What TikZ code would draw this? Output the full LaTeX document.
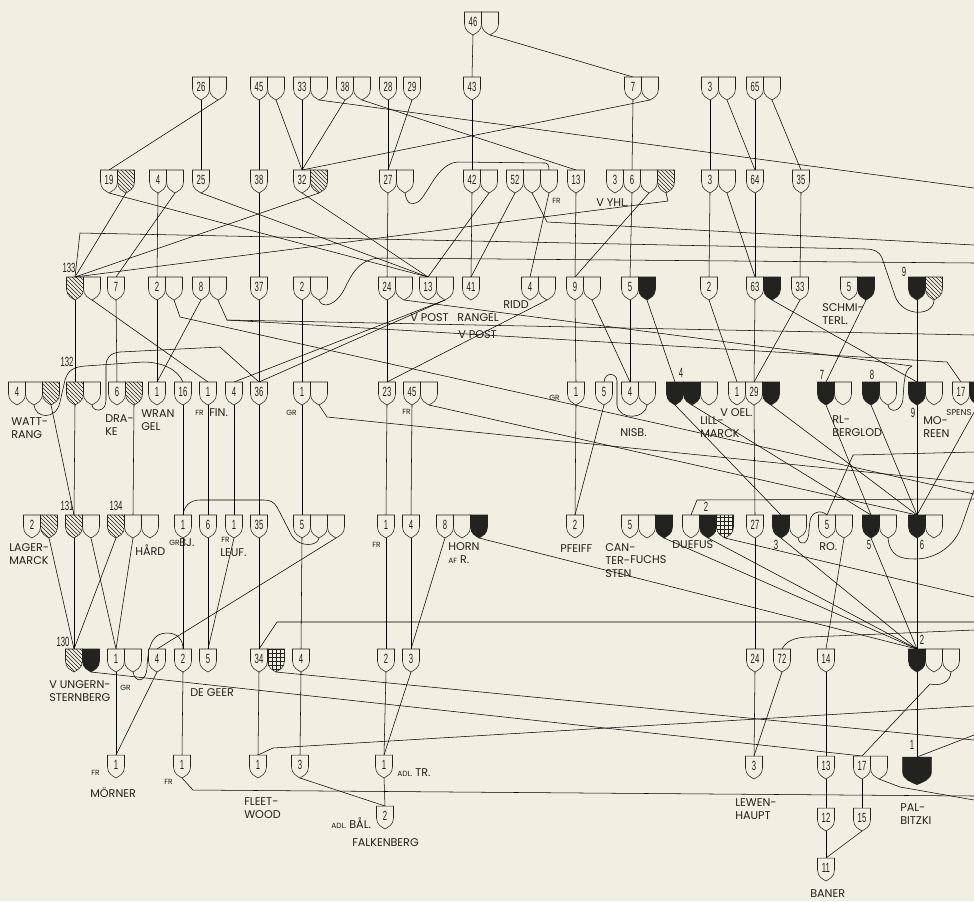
\documentclass[tikz,border=0pt]{standalone}
\usepackage{fontspec,graphicx}
\usetikzlibrary{patterns}
\newfontfamily\labfam{Poppins}
\newfontfamily\numfam{Liberation Sans}
\definecolor{paper}{RGB}{240,239,226}
\definecolor{ink}{RGB}{34,34,30}
\pgfdeclarelayer{paper}
\pgfdeclarelayer{wires}
\pgfsetlayers{paper,wires,main}
\newcommand\nm[1]{\scalebox{.58}[1]{#1}}
\tikzset{
  sf/.style={fill=paper},
  hatched/.style={sf/.style={pattern=north west lines,pattern color=ink}},
  sable/.style={sf/.style={fill=ink}},
  checky/.style={sf/.style={pattern=grid,pattern color=ink}},
  num/.style={font=\numfam\fontsize{10}{10}\selectfont},
  lab/.style={font=\labfam\fontsize{8.4}{9.8}\selectfont,align=left,anchor=west},
  smalllab/.style={font=\labfam\fontsize{5.6}{6}\selectfont,anchor=west},
  shield/.pic={
    \path[draw,sf] (-8.5,0) -- (-8.5,12)
      .. controls (-8.5,19) and (-3,21) .. (0,23)
      .. controls (3,21) and (8.5,19) .. (8.5,12) -- (8.5,0) -- cycle;
    \node[num] (-n) at (0,10) {\nm{#1}};
    \coordinate (-t) at (0,0);
    \coordinate (-b) at (0,23);
  },
}

\begin{document}
\begin{tikzpicture}[x=.75pt,y=-.75pt,color=ink,line width=.62pt,
  every node/.style={inner sep=0pt}]
\useasboundingbox (0,0) rectangle (974,901);
\begin{pgfonlayer}{paper}
\fill[paper] (0,0) rectangle (974,901);
\end{pgfonlayer}

% shields, row by row
\pic (a46) at (473,12) {shield=46};
\pic (a46x) at (490,12) {shield=};

\pic (b26) at (201,77) {shield=26};
\pic (b26x) at (218,77) {shield=};
\pic (b45) at (259,77) {shield=45};
\pic (b45x) at (276,77) {shield=};
\pic (b33) at (302,77) {shield=33};
\pic (b33x) at (319,77) {shield=};
\pic (b38) at (345,77) {shield=38};
\pic (b38x) at (362,77) {shield=};
\pic (b28) at (388,77) {shield=28};
\pic (b29) at (412,77) {shield=29};
\pic (b43) at (472,77) {shield=43};
\pic (b7) at (633,77) {shield=7};
\pic (b7x) at (650,77) {shield=};
\pic (b3) at (710,77) {shield=3};
\pic (b3x) at (727,77) {shield=};
\pic (b65) at (755,77) {shield=65};
\pic (b65x) at (772,77) {shield=};

\pic (c19) at (109,170) {shield=19};
\pic[hatched] (c19h) at (126,170) {shield=};
\pic (c4) at (158,170) {shield=4};
\pic (c4x) at (175,170) {shield=};
\pic (c25) at (201,170) {shield=25};
\pic (c38) at (259,170) {shield=38};
\pic (c32) at (302,170) {shield=32};
\pic[hatched] (c32h) at (319,170) {shield=};
\pic (c27) at (388,170) {shield=27};
\pic (c27x) at (405,170) {shield=};
\pic (c42) at (472,170) {shield=42};
\pic (c42x) at (489,170) {shield=};
\pic (c52) at (515,170) {shield=52};
\pic (c52x) at (532,170) {shield=};
\pic (c52y) at (549,170) {shield=};
\pic (c13) at (576,170) {shield=13};
\pic (c3) at (615,170) {shield=3};
\pic (c6) at (632,170) {shield=6};
\pic (c6x) at (649,170) {shield=};
\pic[hatched] (c6h) at (666,170) {shield=};
\pic (c3r) at (710,170) {shield=3};
\pic (c3rx) at (727,170) {shield=};
\pic (c64) at (755,170) {shield=64};
\pic (c35) at (801,170) {shield=35};

\pic[hatched] (d133) at (75,277) {shield=};
\pic (d133x) at (92,277) {shield=};
\pic (d7) at (116,277) {shield=7};
\pic (d2) at (157,277) {shield=2};
\pic (d2x) at (174,277) {shield=};
\pic (d8) at (201,277) {shield=8};
\pic (d8x) at (218,277) {shield=};
\pic (d37) at (259,277) {shield=37};
\pic (d2r) at (302,277) {shield=2};
\pic (d2rx) at (319,277) {shield=};
\pic (d24) at (387,277) {shield=24};
\pic (d24x) at (404,277) {shield=};
\pic (d13) at (428,277) {shield=13};
\pic (d13x) at (445,277) {shield=};
\pic (d41) at (471,277) {shield=41};
\pic (d4) at (530,277) {shield=4};
\pic (d4x) at (547,277) {shield=};
\pic (d9) at (575,277) {shield=9};
\pic (d9x) at (592,277) {shield=};
\pic (d5) at (630,277) {shield=5};
\pic[sable] (d5k) at (647,277) {shield=};
\pic (d2s) at (709,277) {shield=2};
\pic (d63) at (755,277) {shield=63};
\pic[sable] (d63k) at (772,277) {shield=};
\pic (d33) at (800,277) {shield=33};
\pic (d5s) at (849,277) {shield=5};
\pic[sable] (d5sk) at (866,277) {shield=};
\pic[sable] (d9k) at (917,277) {shield=};
\pic[hatched] (d9h) at (934,277) {shield=};

\pic (e4) at (17,382) {shield=4};
\pic (e4x) at (34,382) {shield=};
\pic[hatched] (e4h) at (51,382) {shield=};
\pic[hatched] (e132) at (75,382) {shield=};
\pic (e132x) at (92,382) {shield=};
\pic (e6) at (117,382) {shield=6};
\pic[hatched] (e6h) at (134,382) {shield=};
\pic (e1) at (157,382) {shield=1};
\pic (e16) at (183,382) {shield=16};
\pic (e1f) at (208,382) {shield=1};
\pic (e4f) at (234,382) {shield=4};
\pic (e36) at (259,382) {shield=36};
\pic (e1g) at (302,382) {shield=1};
\pic (e1gx) at (319,382) {shield=};
\pic (e23) at (387,382) {shield=23};
\pic (e45) at (412,382) {shield=45};
\pic (e45x) at (429,382) {shield=};
\pic (e1n) at (576,382) {shield=1};
\pic (e5n) at (604,382) {shield=5};
\pic (e4n) at (630,382) {shield=4};
\pic (e4nx) at (647,382) {shield=};
\pic[sable] (e4k) at (675,382) {shield=};
\pic[sable] (e4kk) at (692,382) {shield=};
\pic (e4kx) at (709,382) {shield=};
\pic (e1o) at (737,382) {shield=1};
\pic (e29) at (754,382) {shield=29};
\pic[sable] (e29k) at (771,382) {shield=};
\pic[sable] (e7k) at (826,382) {shield=};
\pic (e7x) at (843,382) {shield=};
\pic[sable] (e8k) at (871,382) {shield=};
\pic (e8x) at (888,382) {shield=};
\pic[sable] (e9k) at (917,382) {shield=};
\pic (e9x) at (934,382) {shield=};
\pic (e17) at (961,382) {shield=17};
\pic[sable] (e17k) at (978,382) {shield=};

\pic (f2) at (32,515) {shield=2};
\pic[hatched] (f2h) at (49,515) {shield=};
\pic[hatched] (f131) at (74,515) {shield=};
\pic (f131x) at (91,515) {shield=};
\pic[hatched] (f134) at (116,515) {shield=};
\pic (f134x) at (133,515) {shield=};
\pic (f134y) at (150,515) {shield=};
\pic (f1) at (183,515) {shield=1};
\pic (f6) at (208,515) {shield=6};
\pic (f1l) at (234,515) {shield=1};
\pic (f35) at (259,515) {shield=35};
\pic (f5) at (302,515) {shield=5};
\pic (f5x) at (319,515) {shield=};
\pic (f5y) at (336,515) {shield=};
\pic (f1r) at (386,515) {shield=1};
\pic (f4) at (411,515) {shield=4};
\pic (f8) at (445,515) {shield=8};
\pic (f8x) at (462,515) {shield=};
\pic[sable] (f8k) at (479,515) {shield=};
\pic (f2p) at (575,515) {shield=2};
\pic (f5c) at (630,515) {shield=5};
\pic (f5cx) at (647,515) {shield=};
\pic[sable] (f5ck) at (664,515) {shield=};
\pic (f2d) at (691,515) {shield=};
\pic[sable] (f2dk) at (708,515) {shield=};
\pic[checky] (f2dg) at (725,515) {shield=};
\pic (f27) at (755,515) {shield=27};
\pic[sable] (f3k) at (781,515) {shield=};
\pic (f3x) at (798,515) {shield=};
\pic (f5r) at (827,515) {shield=5};
\pic (f5rx) at (844,515) {shield=};
\pic[sable] (f5k) at (871,515) {shield=};
\pic (f5kx) at (888,515) {shield=};
\pic[sable] (f6k) at (917,515) {shield=};
\pic (f6x) at (934,515) {shield=};

\pic[hatched] (g130) at (74,649) {shield=};
\pic[sable] (g130k) at (91,649) {shield=};
\pic (g1) at (116,649) {shield=1};
\pic (g1x) at (133,649) {shield=};
\pic (g4) at (157,649) {shield=4};
\pic (g2) at (183,649) {shield=2};
\pic (g5) at (208,649) {shield=5};
\pic (g34) at (259,649) {shield=34};
\pic[checky] (g34g) at (276,649) {shield=};
\pic (g4r) at (301,649) {shield=4};
\pic (g2r) at (386,649) {shield=2};
\pic (g3) at (411,649) {shield=3};
\pic (g24) at (755,649) {shield=24};
\pic (g72) at (782,649) {shield=72};
\pic (g14) at (826,649) {shield=14};
\pic[sable] (g2k) at (917,649) {shield=};
\pic (g2x) at (934,649) {shield=};
\pic (g2y) at (951,649) {shield=};

\pic (h1) at (116,755) {shield=1};
\pic (h1d) at (182,755) {shield=1};
\pic (h1f) at (258,755) {shield=1};
\pic (h3) at (300,755) {shield=3};
\pic (h1a) at (384,755) {shield=1};
\pic (h3l) at (754,756) {shield=3};
\pic (h13) at (826,756) {shield=13};
\pic (h17) at (862,756) {shield=17};
\pic (h17x) at (879,756) {shield=};
\pic[sable,xscale=1.7,yscale=1.2] (h1p) at (917,757) {shield=};
\pic (i2) at (385,806) {shield=2};
\pic (i12) at (826,808) {shield=12};
\pic (i15) at (862,808) {shield=15};
\pic (j11) at (826,858) {shield=11};

% numbers beside shields
\node[num] (l133) at (69,268) {\nm{133}};
\node[num] (l132) at (67,362) {\nm{132}};
\node[num] (l131) at (67,506) {\nm{131}};
\node[num] (l134) at (116,506) {\nm{134}};
\node[num] (l130) at (63,642) {\nm{130}};
\node[num] (l9a) at (904,272) {\nm{9}};
\node[num] (l4) at (681,373) {\nm{4}};
\node[num] (l7) at (822,375) {\nm{7}};
\node[num] (l8) at (872,375) {\nm{8}};
\node[num] (l9b) at (913,413) {\nm{9}};
\node[num] (l2a) at (706,507) {\nm{2}};
\node[num] (l3) at (776,545) {\nm{3}};
\node[num] (l5) at (869,545) {\nm{5}};
\node[num] (l6) at (922,545) {\nm{6}};
\node[num] (l2b) at (922,640) {\nm{2}};
\node[num] (l1) at (912,745) {\nm{1}};

% names
\node[smalllab] (fr1) at (552,201) {FR};
\node[lab] (vyhl) at (596,203) {V YHL.};
\node[lab] (vpost1) at (410,318) {V POST};
\node[lab] (rangel) at (457,318) {RANGEL};
\node[lab] (ridd) at (503,305) {RIDD};
\node[lab] (vpost2) at (458,335) {V POST};
\node[lab] (schmi) at (822,314) {SCHMI-\\TERL.};
\node[lab] (watt) at (11,428) {WATT-\\RANG};
\node[lab] (drake) at (105,425) {DRA-\\KE};
\node[lab] (wrangel) at (141,420) {WRAN\\GEL};
\node[smalllab] (fr2) at (195,413) {FR};
\node[lab] (fin) at (209,413) {FIN.};
\node[smalllab] (gr1) at (286,413) {GR};
\node[smalllab] (fr3) at (402,412) {FR};
\node[smalllab] (gr2) at (549,398) {GR};
\node[lab] (nisb) at (620,433) {NISB.};
\node[lab] (lill) at (700,427) {LILL-\\MARCK};
\node[lab] (voel) at (720,413) {V OEL.};
\node[lab] (rl) at (832,426) {RL-\\BERGLOD};
\node[lab] (moreen) at (923,427) {MO-\\REEN};
\node[lab,font=\labfam\fontsize{6.4}{7}\selectfont] (spens) at (946,413) {SPENS};
\node[lab] (lager) at (9,554) {LAGER-\\MARCK};
\node[lab] (hard) at (135,550) {HÅRD};
\node[smalllab] (gr3) at (169,543) {GR};
\node[lab] (bj) at (179,543) {BJ.};
\node[smalllab] (fr4) at (221,540) {FR};
\node[lab] (leuf) at (220,553) {LEUF.};
\node[smalllab] (fr5) at (372,545) {FR};
\node[lab] (horn) at (448,547) {HORN};
\node[lab] (afr) at (448,560) {{\fontsize{5.6}{6}\selectfont AF} R.};
\node[lab] (pfeiff) at (560,549) {PFEIFF};
\node[lab] (canter) at (605,561) {CAN-\\TER-\\STEN};
\node[lab] (fuchs) at (630,560) {FUCHS};
\node[lab] (duefus) at (672,545) {DUEFUS};
\node[lab] (ro) at (819,547) {RO.};
\node[lab] (ungern) at (49,691) {V UNGERN-\\STERNBERG};
\node[smalllab] (gr4) at (120,688) {GR};
\node[lab] (degeer) at (190,693) {DE GEER};
\node[smalllab] (fr6) at (91,773) {FR};
\node[lab] (morner) at (90,793) {MÖRNER};
\node[smalllab] (fr7) at (164,782) {FR};
\node[lab] (fleet) at (244,808) {FLEET-\\WOOD};
\node[lab] (adltr) at (397,773) {{\fontsize{5.6}{6}\selectfont ADL.} TR.};
\node[lab] (adlbal) at (331,823) {{\fontsize{5.6}{6}\selectfont ADL.} BÅL.};
\node[lab] (falk) at (352,843) {FALKENBERG};
\node[lab] (lewen) at (735,809) {LEWEN-\\HAUPT};
\node[lab] (palb) at (900,814) {PAL-\\BITZKI};
\node[lab] (baner) at (810,894) {BANER};

% lines that run off the right edge
\coordinate (rb33) at (974,188);
\coordinate (rc52) at (974,245);
\coordinate (rd2r) at (974,263);
\coordinate (rd8) at (974,335);
\coordinate (rf5r) at (974,452);
\coordinate (re1g) at (974,483);
\coordinate (rf5) at (974,490);
\coordinate (rd2) at (974,494);
\coordinate (rf2d) at (974,499);
\coordinate (rf2g) at (974,597);
\coordinate (rg34) at (974,622);
\coordinate (rg72) at (974,630);
\coordinate (rh1f) at (974,706);
\coordinate (rh1p) at (974,735);
\coordinate (rg34g) at (974,740);
\coordinate (rh1d) at (974,796);
\coordinate (rh17) at (974,800);

\begin{pgfonlayer}{wires}
\draw (a46-b) -- (b43-t);
\draw (a46x-b) -- (b7-t);
\draw (b26-b) -- (c25-t);
\draw (b26x-b) -- (c19-t);
\draw (b45-b) -- (c38-t);
\draw (b45x-b) -- (c32-t);
\draw (b33-b) -- (c32-t);
\draw (b33x-b) -- (rb33);
\draw (b38-b) -- (c32-t);
\draw (b38x-b) -- (c13-t);
\draw (b28-b) -- (c27-t);
\draw (b29-b) -- (c27-t);
\draw (b43-b) -- (c42-t);
\draw (b7-b) -- (c6-t);
\draw (b7x-b) -- (c32-t);
\draw (b3-b) -- (c3r-t);
\draw (b3x-b) -- (c64-t);
\draw (b65-b) -- (c64-t);
\draw (b65x-b) -- (c35-t);

\draw (c19-b) -- (d13-t);
\draw (c19h-b) -- (d133-t);
\draw (c4-b) -- (d2-t);
\draw (c4x-b) -- (d7-t);
\draw (c25-b) -- (d13-t);
\draw (c38-b) -- (d37-t);
\draw (c32-b) -- (d13-t);
\draw (c32h-b) -- (d133-t);
\draw (c27-b) -- (d24-t);
\draw (c27x-b) .. controls (407,205) and (412,205) .. (418,202)
  .. controls (428,195) and (437,163) .. (458,162) -- (545,163)
  .. controls (548,163) and (549,166) .. (c52y-t);
\draw (c42-b) -- (d41-t);
\draw (c42x-b) -- (d13-t);
\draw (c52-b) -- (d41-t);
\draw (c52x-b) -- (547,222) -- (rc52);
\draw (c52y-b) -- (d4-t);
\draw (c13-b) -- (d9-t);
\draw (c6-b) -- (d5-t);
\draw (c6x-b) -- (d9-t);
\draw (c6h-b) -- (668,201) -- (d133-t);
\draw (c3r-b) -- (d2s-t);
\draw (c3rx-b) -- (d63-t);
\draw (c64-b) -- (d63-t);
\draw (c35-b) -- (d33-t);

\draw (d133-b) -- (e132-t);
\draw (d133x-b) -- (e1f-t);
\draw (d7-b) -- (e6-t);
\draw (d2-b) -- (e1-t);
\draw (d2x-b) -- (180,317) -- (rd2);
\draw (d8-b) -- (e1-t);
\draw (d8x-b) -- (227,320) -- (rd8);
\draw (227,320) -- (947,362) -- (e17-t);
\draw (d37-b) -- (e36-t);
\draw (d2r-b) -- (e1g-t);
\draw (d2rx-b) .. controls (322,309) and (336,306) .. (345,288)
  .. controls (355,266) and (365,258) .. (382,258) -- (rd2r);
\draw (d24-b) -- (e23-t);
\draw (d24x-b) -- (912,366) .. controls (907,368) and (905,374) .. (904,384)
  -- (903,398) .. controls (902,413) and (889,413) .. (e8x-b);
\draw (d13x-b) -- (e36-t);
\draw (d13x-b) -- (e4f-t);
\draw (d4x-b) -- (e23-t);
\draw (d9-b) -- (e1n-t);
\draw (d9x-b) -- (e4n-t);
\draw (d5-b) -- (e4n-t);
\draw (d5k-b) -- (e4k-t);
\draw (d2s-b) -- (e1o-t);
\draw (d63-b) -- (e29-t);
\draw (d63k-b) -- (e9k-t);
\draw (d33-b) -- (e29-t);
\draw (d5sk-b) -- (e7k-t);
\draw (d9k-b) -- (e9k-t);
\draw (d9h-b) .. controls (934,316) and (903,318) .. (895,296) -- (882,258)
  .. controls (879,251) and (874,249) .. (865,249) -- (80,233) -- (d133-t);

\draw (e4x-b) .. controls (35,418) and (56,421) .. (60,402) -- (65,380)
  .. controls (68,370) and (74,367) .. (85,366) -- (143,362)
  .. controls (163,362) and (178,370) .. (e16-t);
\draw (e4h-b) -- (f131-t);
\draw (e132-b) -- (f131-t);
\draw (e132x-b) .. controls (93,412) and (106,413) .. (106,400) -- (106,366)
  .. controls (106,358) and (110,353) .. (120,352) -- (220,347) -- (e36-t);
\draw (e6h-b) -- (f134x-t);
\draw (e16-b) -- (f1-t);
\draw (e1f-b) -- (f6-t);
\draw (e4f-b) -- (f1l-t);
\draw (e36-b) -- (f35-t);
\draw (e1g-b) -- (f5-t);
\draw (e1gx-b) -- (327,417) -- (re1g);
\draw (e23-b) -- (f1r-t);
\draw (e45-b) -- (f4-t);
\draw (e45x-b) -- (f6k-t);
\draw (e1n-b) -- (f2p-t);
\draw (e5n-b) -- (f2p-t);
\draw (e4nx-b) .. controls (646,419) and (619,421) .. (617,405) -- (617,381)
  .. controls (617,373) and (605,371) .. (e5n-t);
\draw (e4k-b) -- (f3k-t);
\draw (e4kk-b) -- (f5k-t);
\draw (e29-b) -- (f27-t);
\draw (e29k-b) -- (f6k-t);
\draw (e7k-b) -- (f5k-t);
\draw (e8k-b) -- (f6k-t);
\draw (e9k-b) -- (f6k-t);
\draw (e17k-b) -- (f6k-t);

\draw (f2h-b) -- (g130-t);
\draw (f131-b) -- (g130-t);
\draw (f131x-b) -- (g1-t);
\draw (f134-b) -- (g130-t);
\draw (f134x-b) -- (g1-t);
\draw (f1-b) -- (g2-t);
\draw (f5x-b) .. controls (318,546) and (300,548) .. (292,536) -- (277,507)
  .. controls (274,502) and (270,500) .. (264,500) -- (200,500)
  .. controls (190,500) and (184,506) .. (f1-t);
\draw (f6-b) -- (g5-t);
\draw (f1l-b) -- (g5-t);
\draw (f35-b) -- (g34-t);
\draw (f5-b) -- (g4r-t);
\draw (f5y-b) -- (g4-t);
\draw (f1r-b) -- (g2r-t);
\draw (f4-b) -- (g3-t);
\draw (f8-b) -- (g3-t);
\draw (f8k-b) -- (g2k-t);
\draw (f5ck-b) -- (g2k-t);
\draw (f2d-t) -- (697,500) -- (rf2d);
\draw (f2dk-b) -- (g2k-t);
\draw (f2dg-b) -- (rf2g);
\draw (f27-b) -- (g24-t);
\draw (f3k-b) -- (g2k-t);
\draw (f3x-b) .. controls (800,547) and (809,545) .. (809,530) -- (810,521)
  .. controls (811,512) and (821,509) .. (f5r-t);
\draw (rf5r) -- (853,455) -- (f5r-t);
\draw (f5rx-b) -- (g14-t);
\draw (f5k-b) -- (g2k-t);
\draw (f5kx-b) .. controls (890,556) and (900,559) .. (915,559)
  .. controls (936,559) and (955,546) .. (962,525) -- (rf5);
\draw (f6k-b) -- (g2k-t);

\draw (rg34) -- (277,622) -- (g34-t);
\draw (g72-t) .. controls (786,641) and (795,637) .. (810,637) -- (rg72);
\draw (g130k-b) -- (h17-t);
\draw (g1-b) -- (h1-t);
\draw (g1x-b) .. controls (135,683) and (146,683) .. (147,668)
  .. controls (148,641) and (155,633) .. (167,633)
  .. controls (178,633) and (183,640) .. (g2-t);
\draw (g4-b) -- (h1-t);
\draw (g2-b) -- (h1d-t);
\draw (g34-b) -- (h1f-t);
\draw (g34g-b) -- (rg34g);
\draw (g4r-b) -- (h3-t);
\draw (g2r-b) -- (h1a-t);
\draw (g3-b) -- (h1a-t);
\draw (g24-b) -- (h3l-t);
\draw (g72-b) -- (h3l-t);
\draw (g14-b) -- (h13-t);
\draw (g2k-b) -- (h1p-t);
\draw (g2y-b) .. controls (950,683) and (940,686) .. (930,684) -- (h17-t);

\draw (rh1f) -- (273,748) -- (h1f-t);
\draw (rh1p) -- (h1p-t);
\draw (h1d-b) -- (193,790) -- (rh1d);
\draw (h3-b) -- (i2-t);
\draw (h1a-b) -- (i2-t);
\draw (h13-b) -- (i12-t);
\draw (h17-b) -- (i15-t);
\draw (h17x-b) -- (900,787) -- (rh17);
\draw (i12-b) -- (j11-t);
\draw (i15-b) -- (j11-t);
\end{pgfonlayer}
\end{tikzpicture}
\end{document}
